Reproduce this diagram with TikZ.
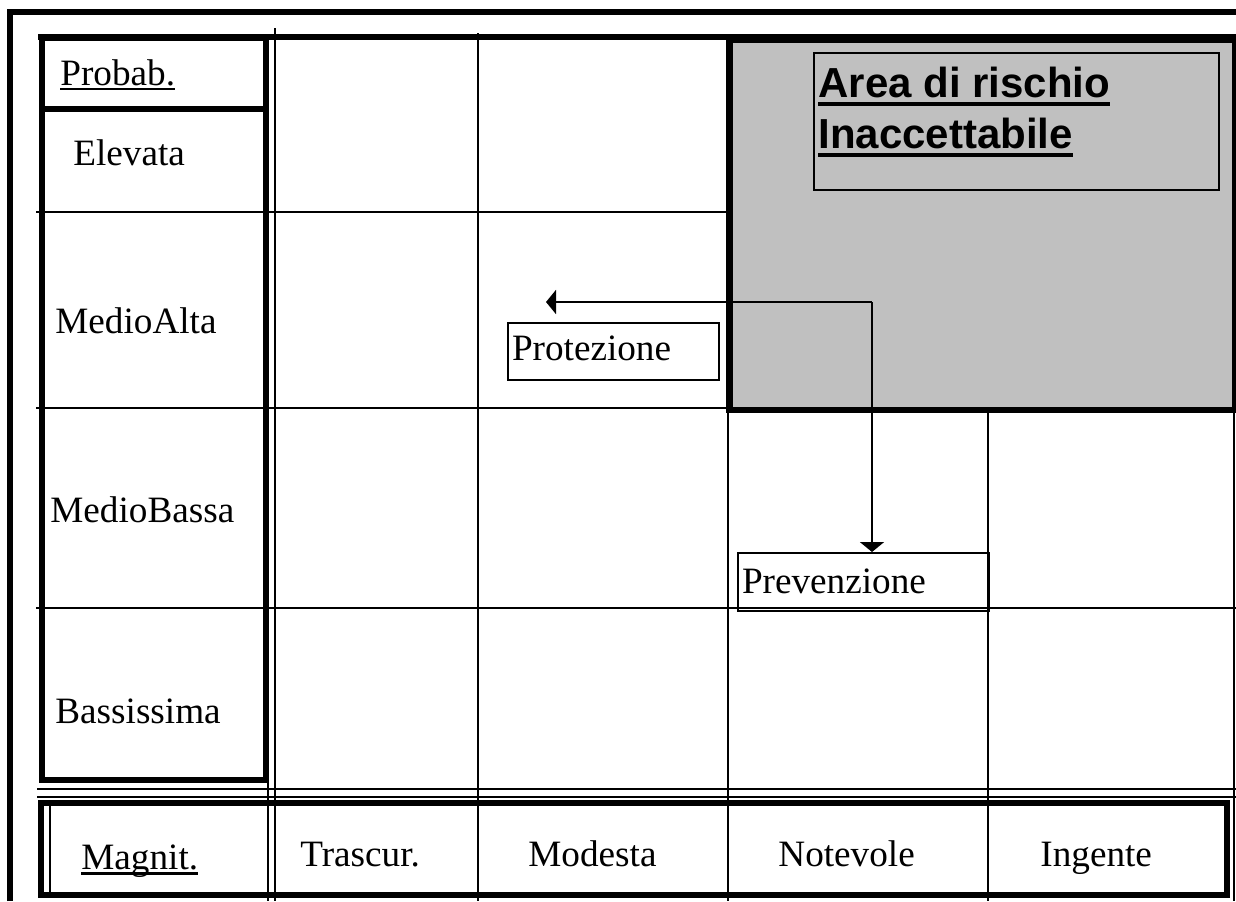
\documentclass[tikz,border=0pt]{standalone}
\usepackage{fontspec}
\setmainfont{Liberation Serif}
\newfontfamily\arialfont{Liberation Sans}
\usetikzlibrary{positioning}
\usetikzlibrary{arrows.meta, calc}

\newsavebox{\ulsave}
\newcommand{\ulthick}[3]{\sbox{\ulsave}{#3}\rlap{\rule[-#1]{\wd\ulsave}{#2}}\usebox{\ulsave}}

\definecolor{riskgray}{RGB}{192,192,192}

\begin{document}
\begin{tikzpicture}[x=0.5pt, y=-0.5pt,
    gridline/.style={line width=1pt},
    frameline/.style={line width=2.6pt},
    boxline/.style={line width=3.2pt},
    lbl/.style={anchor=base west, inner sep=0pt, font=\fontsize{18.6}{22}\selectfont},
    arealbl/.style={anchor=base west, inner sep=0pt, font=\arialfont\bfseries\fontsize{21}{25}\selectfont},
    riskbox/.style={draw, line width=1pt, anchor=north west, inner xsep=2pt, inner ysep=0pt, align=left, font=\fontsize{18.6}{22}\selectfont},
    arrowline/.style={-{Triangle[width=12pt, length=5pt]}, line width=1pt}]
    \useasboundingbox (0,0) rectangle (1236,901);

    % Risk area
    \filldraw[fill=riskgray, boxline] (729.5,40) rectangle (1235,410);
    \draw[gridline] (814,53) rectangle (1219,190);

    % Grid
    \draw[frameline] (10,901) -- (10,12) -- (1236,12);
    \draw[frameline] (38,37) -- (1236,37);
    \draw[gridline] (275,28) -- (275,901);
    \draw[gridline] (268,780) -- (268,901);
    \draw[gridline] (478,33) -- (478,901);
    \draw[gridline] (728,410) -- (728,901);
    \draw[gridline] (988,410) -- (988,901);
    \draw[gridline] (1234,410) -- (1234,901);
    \draw[gridline] (36,212) -- (728,212);
    \draw[gridline] (36,408) -- (728,408);
    \draw[gridline] (36,608) -- (1236,608);
    \draw[gridline] (37,789) -- (1236,789);
    \draw[gridline] (37,797) -- (1236,797);

    % Probability column and magnitude row
    \draw[boxline] (42,38) rectangle (266,780);
    \draw[frameline] (42,109) -- (266,109);
    \draw[frameline] (41,803) rectangle (1227,895);
    \draw[gridline] (50,806) -- (50,892);

    % Labels
    \node[lbl] (probab) at (60,85) {\ulthick{2.6pt}{1.2pt}{Probab.}};
    \node[lbl] (elevata) at (73,165) {Elevata};
    \node[lbl] (medioalta) at (55,333) {MedioAlta};
    \node[lbl] (mediobassa) at (50,522) {MedioBassa};
    \node[lbl] (bassissima) at (55,723) {Bassissima};
    \node[lbl] (magnit) at (81,869) {\ulthick{2.9pt}{1.3pt}{Magnit.}};
    \node[lbl] (trascur) at (300,866) {Trascur.};
    \node[lbl] (modesta) at (528,866) {Modesta};
    \node[lbl] (notevole) at (778,866) {Notevole};
    \node[lbl] (ingente) at (1040,866) {Ingente};

    \node[arealbl] (area) at (818,97) {\ulthick{4.4pt}{1.8pt}{Area di rischio}};
    \node[arealbl] (inaccettabile) at (818,148) {\ulthick{4.4pt}{1.8pt}{Inaccettabile}};

    % Boxes
    \node[riskbox, text width=101.5pt, text height=18.5pt, text depth=10pt] (protezione) at (507,322) {Protezione};
    \node[riskbox, text width=121.5pt, text height=20pt, text depth=9pt] (prevenzione) at (737,552) {Prevenzione};

    % Arrows
    \coordinate (bend) at (872,302);
    \coordinate (protip) at (546,302);
    \draw[arrowline] (bend) -- (protip);
    \draw[arrowline] (bend) -- (bend |- prevenzione.north);
\end{tikzpicture}
\end{document}
